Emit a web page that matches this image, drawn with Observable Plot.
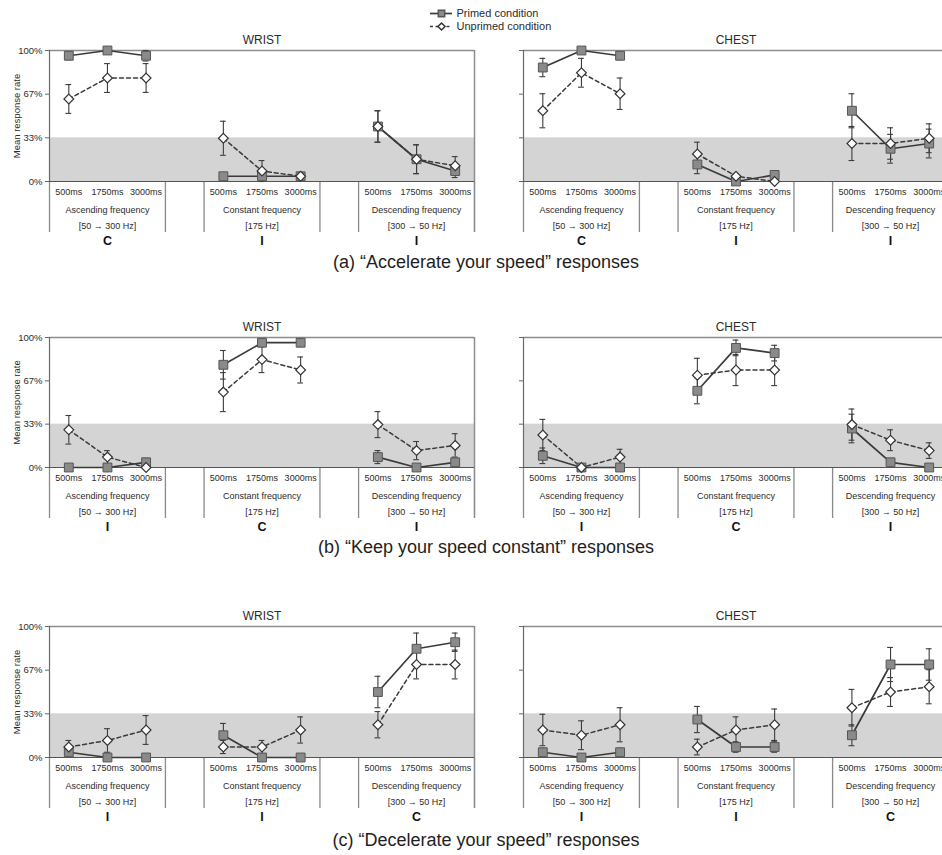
<!DOCTYPE html>
<html><head><meta charset="utf-8">
<script src="https://cdn.jsdelivr.net/npm/d3@7"></script>
<script src="https://cdn.jsdelivr.net/npm/@observablehq/plot@0.6"></script>
<style>
body{margin:0;background:#fff;}
#root{position:relative;width:942px;height:855px;overflow:hidden;font-family:Arial,"Liberation Sans",sans-serif;color:#2b2b2b;background:#fff;}
.p{position:absolute;}
.cap{position:absolute;left:0;width:972px;text-align:center;font-size:18px;line-height:20px;color:#1e1e1e;}
</style></head><body><div id="root"></div>
<script>
// ---------- categories & labels ----------
const durations = ["500ms", "1750ms", "3000ms"];
const groupNames = ["Ascending frequency", "Constant frequency", "Descending frequency"];
const groupRanges = ["[50 → 300 Hz]", "[175 Hz]", "[300 → 50 Hz]"];
const yTicks = [0, 1/3, 2/3, 1];
const yTickLabels = ["0%", "33%", "67%", "100%"];
const panelTitles = ["WRIST", "CHEST"];
const legendItems = ["Primed condition", "Unprimed condition"];
const yLabel = "Mean response rate";
const captions = [
  "(a) “Accelerate your speed” responses",
  "(b) “Keep your speed constant” responses",
  "(c) “Decelerate your speed” responses"
];
const verdictsA = ["C", "I", "I"];
const verdictsB = ["I", "C", "I"];
const verdictsC = ["I", "I", "C"];

// ---------- values (9 per series: 3 groups x 3 durations) ----------
// (a) Accelerate
const aWristPrimed      = [0.96, 1.00, 0.96, 0.04, 0.04, 0.04, 0.42, 0.17, 0.08];
const aWristPrimedErr   = [0.03, 0.00, 0.04, 0.02, 0.02, 0.02, 0.12, 0.11, 0.05];
const aWristUnprimed    = [0.63, 0.79, 0.79, 0.33, 0.08, 0.04, 0.42, 0.17, 0.12];
const aWristUnprimedErr = [0.11, 0.11, 0.11, 0.13, 0.08, 0.02, 0.12, 0.11, 0.07];
const aChestPrimed      = [0.87, 1.00, 0.96, 0.13, 0.00, 0.05, 0.54, 0.25, 0.29];
const aChestPrimedErr   = [0.07, 0.00, 0.03, 0.07, 0.00, 0.02, 0.13, 0.11, 0.11];
const aChestUnprimed    = [0.54, 0.83, 0.67, 0.21, 0.04, 0.00, 0.29, 0.29, 0.33];
const aChestUnprimedErr = [0.13, 0.11, 0.12, 0.09, 0.02, 0.00, 0.13, 0.12, 0.11];
// (b) Keep constant
const bWristPrimed      = [0.00, 0.00, 0.04, 0.79, 0.96, 0.96, 0.08, 0.00, 0.04];
const bWristPrimedErr   = [0.00, 0.00, 0.03, 0.11, 0.03, 0.03, 0.05, 0.00, 0.03];
const bWristUnprimed    = [0.29, 0.08, 0.00, 0.58, 0.83, 0.75, 0.33, 0.13, 0.17];
const bWristUnprimedErr = [0.11, 0.05, 0.00, 0.15, 0.10, 0.10, 0.10, 0.07, 0.09];
const bChestPrimed      = [0.09, 0.00, 0.00, 0.59, 0.92, 0.88, 0.30, 0.04, 0.00];
const bChestPrimedErr   = [0.06, 0.00, 0.00, 0.10, 0.06, 0.06, 0.11, 0.03, 0.00];
const bChestUnprimed    = [0.25, 0.00, 0.08, 0.71, 0.75, 0.75, 0.33, 0.21, 0.13];
const bChestUnprimedErr = [0.12, 0.00, 0.06, 0.13, 0.12, 0.12, 0.12, 0.08, 0.06];
// (c) Decelerate
const cWristPrimed      = [0.04, 0.00, 0.00, 0.17, 0.00, 0.00, 0.50, 0.83, 0.88];
const cWristPrimedErr   = [0.03, 0.00, 0.00, 0.09, 0.00, 0.00, 0.12, 0.12, 0.07];
const cWristUnprimed    = [0.08, 0.13, 0.21, 0.08, 0.08, 0.21, 0.25, 0.71, 0.71];
const cWristUnprimedErr = [0.05, 0.09, 0.11, 0.05, 0.05, 0.10, 0.10, 0.11, 0.11];
const cChestPrimed      = [0.04, 0.00, 0.04, 0.29, 0.08, 0.08, 0.17, 0.71, 0.71];
const cChestPrimedErr   = [0.03, 0.00, 0.03, 0.10, 0.04, 0.04, 0.08, 0.13, 0.12];
const cChestUnprimed    = [0.21, 0.17, 0.25, 0.08, 0.21, 0.25, 0.38, 0.50, 0.54];
const cChestUnprimedErr = [0.12, 0.11, 0.13, 0.06, 0.10, 0.12, 0.14, 0.11, 0.13];

// ---------- styling ----------
const FONT = 'Arial, "Liberation Sans", sans-serif';
const INK = "#2b2b2b";
const BAND = "#d4d4d4";
const PRIMED_FILL = "#8a8a8a";
const LINE = "#3a3a3a";
const slots = durations.length + 1;           // 3 durations + a gap
const xDomain = [0, groupNames.length * slots - 1];
const cap = 0.075;

function rowsOf(series, vals, errs) {
  return vals.map((v, i) => {
    const g = Math.floor(i / durations.length), s = i % durations.length;
    const e = errs[i];
    return {series, g, key: series + g, x: g * slots + s + 0.5, v,
            lo: Math.max(0, v - e), hi: Math.min(1, v + e), e};
  });
}

function panel({primed, primedErr, unprimed, unprimedErr, title, verdicts, labels, mL, width, plotH}) {
  const P = rowsOf("P", primed, primedErr);
  const U = rowsOf("U", unprimed, unprimedErr);
  const PE = P.filter(d => d.e > 0), UE = U.filter(d => d.e > 0);
  const xTicks = d3.range(groupNames.length * durations.length).map(i => Math.floor(i / durations.length) * slots + (i % durations.length) + 0.5);
  const seps = [];
  groupNames.forEach((_, g) => { seps.push(g * slots, g * slots + durations.length); });
  const groups = groupNames.map((n, g) => ({cx: g * slots + durations.length / 2, name: n, range: groupRanges[g], verdict: verdicts[g]}));
  const marginTop = 30, marginBottom = 70;
  return Plot.plot({
    width, height: marginTop + plotH + marginBottom,
    marginLeft: mL, marginRight: width - mL - 425, marginTop, marginBottom,
    x: {domain: xDomain, axis: null},
    y: {domain: [0, 1], axis: null},
    style: {fontFamily: FONT, color: INK, background: "transparent", overflow: "visible"},
    marks: [
      Plot.rect([{x1: xDomain[0], x2: xDomain[1], y1: yTicks[0], y2: yTicks[1]}], {x1: "x1", x2: "x2", y1: "y1", y2: "y2", fill: BAND}),
      Plot.ruleY([yTicks[3]], {stroke: "#8d8d8d", strokeWidth: 1.5}),
      Plot.ruleX([xDomain[1]], {stroke: "#8d8d8d", strokeWidth: 1.5}),
      Plot.ruleX([xDomain[0]], {stroke: "#6a6a6a", strokeWidth: 1.2}),
      Plot.ruleX(seps.concat([xDomain[1]]), {y1: 0, y2: 0, insetBottom: -51, stroke: "#8a8a8a", strokeWidth: 1.3}),
      Plot.ruleY([0], {stroke: "#555", strokeWidth: 1.2}),
      Plot.axisY({ticks: yTicks, tickFormat: labels ? (d => yTickLabels[yTicks.indexOf(d)]) : (() => ""),
                  tickSize: 4, tickPadding: 3, fontSize: 9.5, label: null, stroke: "#666"}),
      labels ? Plot.text([yLabel], {frameAnchor: "left", textAnchor: "middle", rotate: -90, dx: -33, fontSize: 9.5, fill: INK}) : null,
      Plot.line(P, {x: "x", y: "v", z: "key", stroke: LINE, strokeWidth: 1.7}),
      Plot.line(U, {x: "x", y: "v", z: "key", stroke: LINE, strokeWidth: 1.5, strokeDasharray: "4,3"}),
      Plot.ruleX(PE.concat(UE), {x: "x", y1: "lo", y2: "hi", stroke: "#3c3c3c", strokeWidth: 1.1}),
      Plot.ruleY(PE.concat(UE), {y: "lo", x1: d => d.x - cap, x2: d => d.x + cap, stroke: "#3c3c3c", strokeWidth: 1.1}),
      Plot.ruleY(PE.concat(UE), {y: "hi", x1: d => d.x - cap, x2: d => d.x + cap, stroke: "#3c3c3c", strokeWidth: 1.1}),
      Plot.dot(P, {x: "x", y: "v", symbol: "square", r: 5, fill: PRIMED_FILL, stroke: "#555", strokeWidth: 1}),
      Plot.dot(U, {x: "x", y: "v", symbol: "diamond2", r: 4.4, fill: "#fff", stroke: "#333", strokeWidth: 1.2}),
      Plot.axisX({ticks: xTicks, tickFormat: d => durations[Math.floor(d) % slots], tickSize: 0, tickPadding: 7.5, fontSize: 9, label: null}),
      Plot.text(groups, {x: "cx", y: 0, text: "name", dy: 28.5, fontSize: 9, fill: INK}),
      Plot.text(groups, {x: "cx", y: 0, text: "range", dy: 45, fontSize: 9, fill: INK}),
      Plot.text(groups, {x: "cx", y: 0, text: "verdict", dy: 59.5, fontSize: 12.5, fontWeight: "bold", fill: "#111"}),
      Plot.text([title], {frameAnchor: "top", dy: -15, fontSize: 12, fill: INK})
    ].filter(Boolean)
  });
}

const root = document.getElementById("root");
function place(node, left, top) {
  node.classList && node.classList.add("p");
  node.style.position = "absolute";
  node.style.left = left + "px";
  node.style.top = top + "px";
  root.appendChild(node);
}

const rows = [
  {top: 50, h: 131, verdicts: verdictsA,
   wrist: [aWristPrimed, aWristPrimedErr, aWristUnprimed, aWristUnprimedErr],
   chest: [aChestPrimed, aChestPrimedErr, aChestUnprimed, aChestUnprimedErr], cap: 252},
  {top: 337, h: 130, verdicts: verdictsB,
   wrist: [bWristPrimed, bWristPrimedErr, bWristUnprimed, bWristUnprimedErr],
   chest: [bChestPrimed, bChestPrimedErr, bChestUnprimed, bChestUnprimedErr], cap: 537},
  {top: 626, h: 131, verdicts: verdictsC,
   wrist: [cWristPrimed, cWristPrimedErr, cWristUnprimed, cWristUnprimedErr],
   chest: [cChestPrimed, cChestPrimedErr, cChestUnprimed, cChestUnprimedErr], cap: 830}
];

rows.forEach((r, k) => {
  const [wp, wpe, wu, wue] = r.wrist;
  const [cp, cpe, cu, cue] = r.chest;
  place(panel({primed: wp, primedErr: wpe, unprimed: wu, unprimedErr: wue, title: panelTitles[0],
               verdicts: r.verdicts, labels: true, mL: 49, width: 492, plotH: r.h}), 0, r.top - 30);
  place(panel({primed: cp, primedErr: cpe, unprimed: cu, unprimedErr: cue, title: panelTitles[1],
               verdicts: r.verdicts, labels: false, mL: 53, width: 500, plotH: r.h}), 470, r.top - 30);
  const c = document.createElement("div");
  c.className = "cap";
  c.style.top = r.cap + "px";
  c.textContent = captions[k];
  root.appendChild(c);
});

// ---------- legend ----------
const legend = Plot.plot({
  width: 170, height: 34, marginLeft: 6, marginRight: 142, marginTop: 0, marginBottom: 0,
  x: {domain: [0, 1], axis: null},
  y: {type: "point", domain: legendItems, range: [13, 26], padding: 0, axis: null},
  style: {fontFamily: FONT, color: INK, background: "transparent", overflow: "visible"},
  marks: [
    Plot.ruleY([legendItems[0]], {x1: 0, x2: 1, stroke: LINE, strokeWidth: 1.7}),
    Plot.ruleY([legendItems[1]], {x1: 0, x2: 1, stroke: LINE, strokeWidth: 1.5, strokeDasharray: "3,2.5"}),
    Plot.dot([legendItems[0]], {x: 0.5, y: d => d, symbol: "square", r: 3.6, fill: PRIMED_FILL, stroke: "#555"}),
    Plot.dot([legendItems[1]], {x: 0.5, y: d => d, symbol: "diamond2", r: 3.2, fill: "#fff", stroke: "#333"}),
    Plot.text(legendItems, {x: 1, y: d => d, text: d => d, dx: 4, textAnchor: "start", fontSize: 11, fill: INK})
  ]
});
place(legend, 424, 0);
</script>
</body></html>
